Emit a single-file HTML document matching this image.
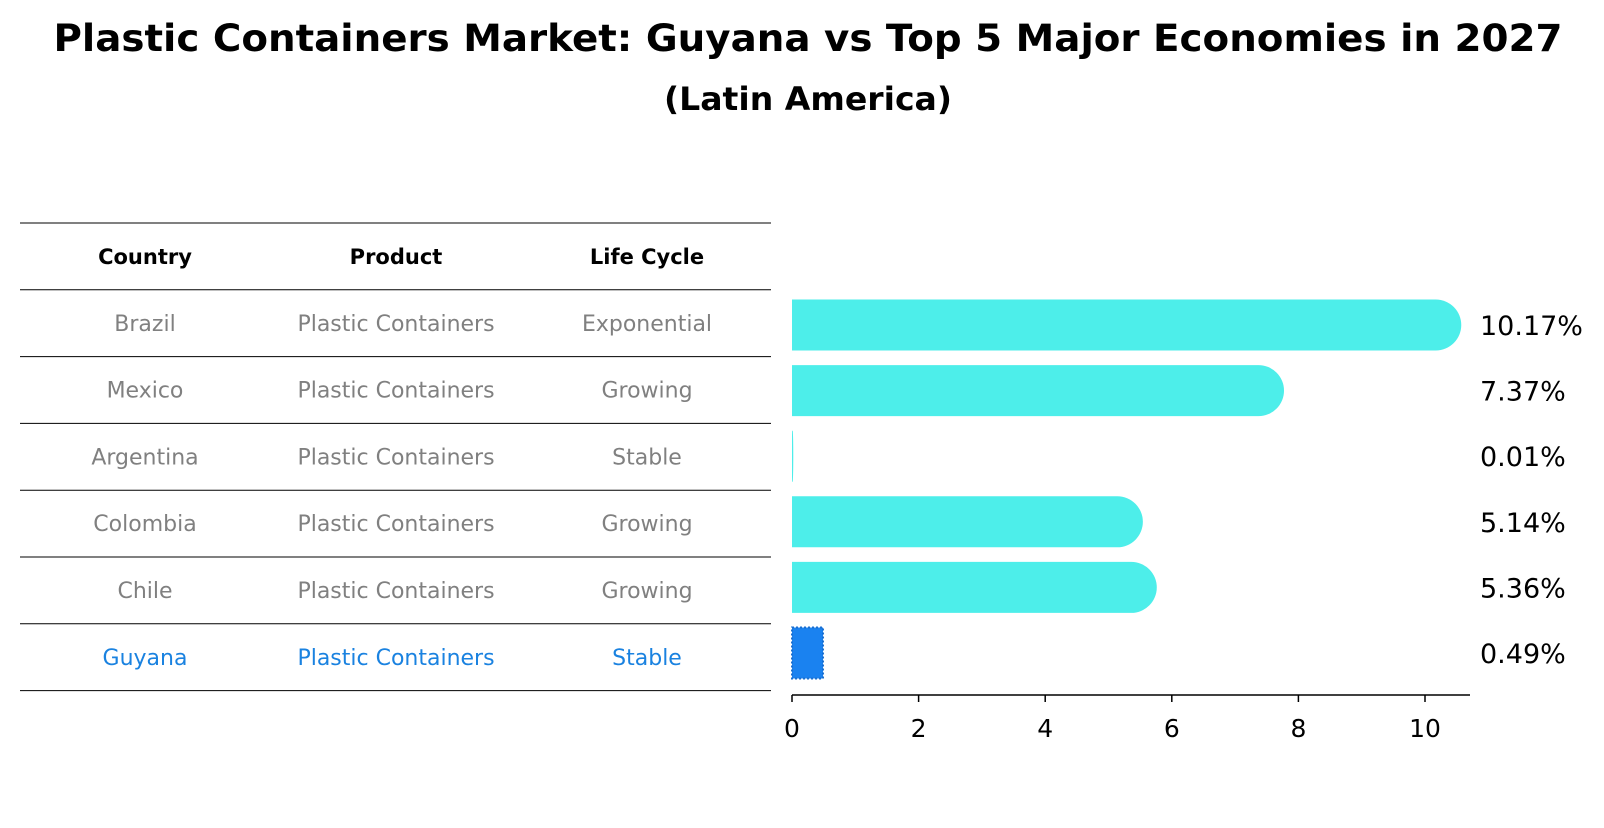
<!DOCTYPE html>
<html><head><meta charset="utf-8"><style>
body{margin:0;background:#fff;}
svg text{font-family:"DejaVu Sans","Liberation Sans",sans-serif;}
</style></head><body>
<svg width="1604" height="823" xmlns="http://www.w3.org/2000/svg">
<text x="808" y="51" text-anchor="middle" font-size="37" font-weight="bold" textLength="1509" lengthAdjust="spacingAndGlyphs">Plastic Containers Market: Guyana vs Top 5 Major Economies in 2027</text>
<text x="808" y="110" text-anchor="middle" font-size="32" font-weight="bold" textLength="288" lengthAdjust="spacingAndGlyphs">(Latin America)</text>
<g id="table"></g>
<g id="bars"></g>
</svg>
<script>
const countries=["Brazil","Mexico","Argentina","Colombia","Chile","Guyana"];
const products=["Plastic Containers","Plastic Containers","Plastic Containers","Plastic Containers","Plastic Containers","Plastic Containers"];
const lifeCycles=["Exponential","Growing","Stable","Growing","Growing","Stable"];
const values=[10.17,7.37,0.01,5.14,5.36,0.49];
const valueLabels=["10.17%","7.37%","0.01%","5.14%","5.36%","0.49%"];
const ticks=[0,2,4,6,8,10];
const NS="http://www.w3.org/2000/svg";
function mk(tag,attrs,parent){const e=document.createElementNS(NS,tag);for(const k in attrs)e.setAttribute(k,attrs[k]);parent.appendChild(e);return e;}
const tb=document.getElementById('table');
const lineY=i=>223+i*66.8;
for(let i=0;i<=7;i++){const l=mk('line',{x1:20,x2:771,y1:lineY(i),y2:lineY(i),stroke:'#000','stroke-width':1},tb);

}
const colX=[145,396,647];
["Country","Product","Life Cycle"].forEach((h,j)=>{const t=mk('text',{x:colX[j],y:lineY(0)+41,'text-anchor':'middle','font-size':21,'font-weight':'bold'},tb);t.textContent=h;

});
countries.forEach((c,i)=>{const col=c==="Guyana"?"#1a82e0":"#808080";
[c,products[i],lifeCycles[i]].forEach((v,j)=>{const t=mk('text',{x:colX[j],y:lineY(i+1)+41,'text-anchor':'middle','font-size':22,fill:col},tb);t.textContent=v;

});});
const bg=document.getElementById('bars');
const x0=792,ux=63.3;const X=v=>x0+v*ux;
const yc=i=>325+i*65.6;const bh=51;
values.forEach((v,i)=>{let b;
if(countries[i]==="Guyana"){b=mk('rect',{x:X(0),y:yc(i)-bh/2,width:X(v)-X(0),height:bh,fill:'#1a82f0',stroke:'#1a6fd0','stroke-width':2,'stroke-dasharray':'2 2'},bg);}
else{const r=bh/2,xe=X(v),rx=Math.max(0.5,Math.min(r,xe-X(0)));b=mk('path',{d:`M${X(0)},${yc(i)-r} L${xe},${yc(i)-r} A${rx},${r} 0 0 1 ${xe},${yc(i)+r} L${X(0)},${yc(i)+r} Z`,fill:'#4deeea'},bg);}


const t=mk('text',{x:1480,y:yc(i)+10,'font-size':27},bg);t.textContent=valueLabels[i];

});
const ax=mk('line',{x1:X(0),x2:1470,y1:695,y2:695,stroke:'#000','stroke-width':1.5},bg);


ticks.forEach(tv=>{const l=mk('line',{x1:X(tv),x2:X(tv),y1:695,y2:702,stroke:'#000','stroke-width':1.5},bg);


const t=mk('text',{x:X(tv),y:737,'text-anchor':'middle','font-size':25},bg);t.textContent=tv;

});
</script>
</body></html>
